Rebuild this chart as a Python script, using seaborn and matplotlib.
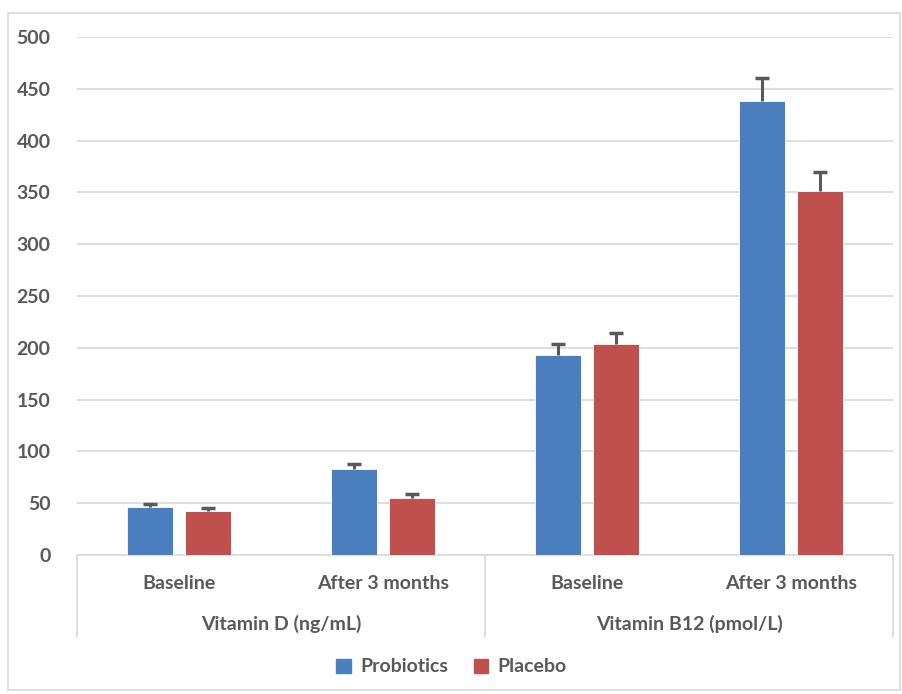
import pandas as pd
import seaborn as sns
import matplotlib.pyplot as plt
from matplotlib.patches import Rectangle
from matplotlib.lines import Line2D

# 数据
time_labels = ['Baseline', 'After 3 months', 'Baseline', 'After 3 months']
vitamin_labels = ['Vitamin D (ng/mL)', 'Vitamin B12 (pmol/L)']
groups = ['Probiotics', 'Placebo']
probiotics_mean = [46.5, 83, 193.5, 438]
probiotics_sd = [3, 5, 10, 22]
placebo_mean = [42.5, 55.5, 204, 351]
placebo_sd = [2.5, 3.5, 10.5, 18.5]

base_color_p1 = '#4A7FBF'
base_color_p2 = '#C0504D'
text_color = '#595959'
line_color = '#D9D9D9'

df = pd.DataFrame({
    'pos': list(range(4)) * 2,
    'group': [groups[0]] * 4 + [groups[1]] * 4,
    'mean': probiotics_mean + placebo_mean,
    'sd': probiotics_sd + placebo_sd,
})

plt.rcParams['font.family'] = ['Lato', 'DejaVu Sans']
plt.rcParams['font.weight'] = 'bold'
fs = 14

fig = plt.figure(figsize=(9.03, 6.94), dpi=100)
ax = fig.add_axes([77 / 903, 1 - 555 / 694, 816 / 903, 518 / 694])

sns.barplot(data=df, x='pos', y='mean', hue='group', order=[0, 1, 2, 3],
            palette=[base_color_p1, base_color_p2], saturation=1, width=0.57, gap=0.2,
            errorbar=None, ax=ax, legend=False, zorder=3)

# 误差线（仅上方）
for patches, g in zip(ax.containers, groups):
    sub = df[df['group'] == g]
    for bar, m, s in zip(patches, sub['mean'], sub['sd']):
        bar.set_edgecolor('#FFFFFF')
        bar.set_linewidth(0.6)
        xc = bar.get_x() + bar.get_width() / 2
        ax.vlines(xc, m, m + s, color=text_color, linewidth=2.2, zorder=4)
        ax.plot([xc], [m + s], marker='_', markersize=10, markeredgewidth=2.5,
                color=text_color, zorder=4)

ax.set_xlim(-0.5, 3.5)
ax.set_ylim(0, 500)
ax.set_yticks(range(0, 501, 50))
ax.yaxis.grid(True, color=line_color, linewidth=1.2, zorder=0)
ax.set_axisbelow(True)
for side in ['left', 'right', 'top']:
    ax.spines[side].set_visible(False)
ax.spines['bottom'].set_color(line_color)
ax.spines['bottom'].set_linewidth(1.2)
ax.tick_params(axis='y', length=0, pad=19, labelsize=fs, labelcolor=text_color)
ax.tick_params(axis='x', length=0, pad=14.5, labelsize=fs, labelcolor=text_color)
ax.set_xticks(range(4))
ax.set_xticklabels(time_labels, fontweight='bold')
for t in ax.get_yticklabels():
    t.set_fontweight('bold')
ax.set_xlabel('')
ax.set_ylabel('')

# 分组标签与分隔线
trans = ax.get_xaxis_transform()
for x in [-0.5, 1.5, 3.5]:
    ax.add_line(Line2D([x, x], [0, -82 / 518], transform=trans, color=line_color,
                       linewidth=1.2, clip_on=False))
for i, lab in enumerate(vitamin_labels):
    ax.text(0.5 + 2 * i, -69 / 518, lab, transform=trans, ha='center', va='center',
            fontsize=fs, color=text_color, fontweight='bold')

# 图例
handles = [Rectangle((0, 0), 1, 1, color=c) for c in [base_color_p1, base_color_p2]]
fig.legend(handles, groups, loc='center', bbox_to_anchor=(0.5, 1 - 667 / 694), ncol=2,
           frameon=False, prop={'size': fs, 'weight': 'bold'}, labelcolor=text_color,
           handlelength=0.75, handleheight=0.75, handletextpad=0.5, columnspacing=1.3)

# 外边框
fig.patches.append(Rectangle((8 / 903, 4 / 694), 892 / 903, 677 / 694, transform=fig.transFigure,
                             fill=False, edgecolor=line_color, linewidth=1.2))

plt.savefig('out.png', dpi=100)
plt.close()
